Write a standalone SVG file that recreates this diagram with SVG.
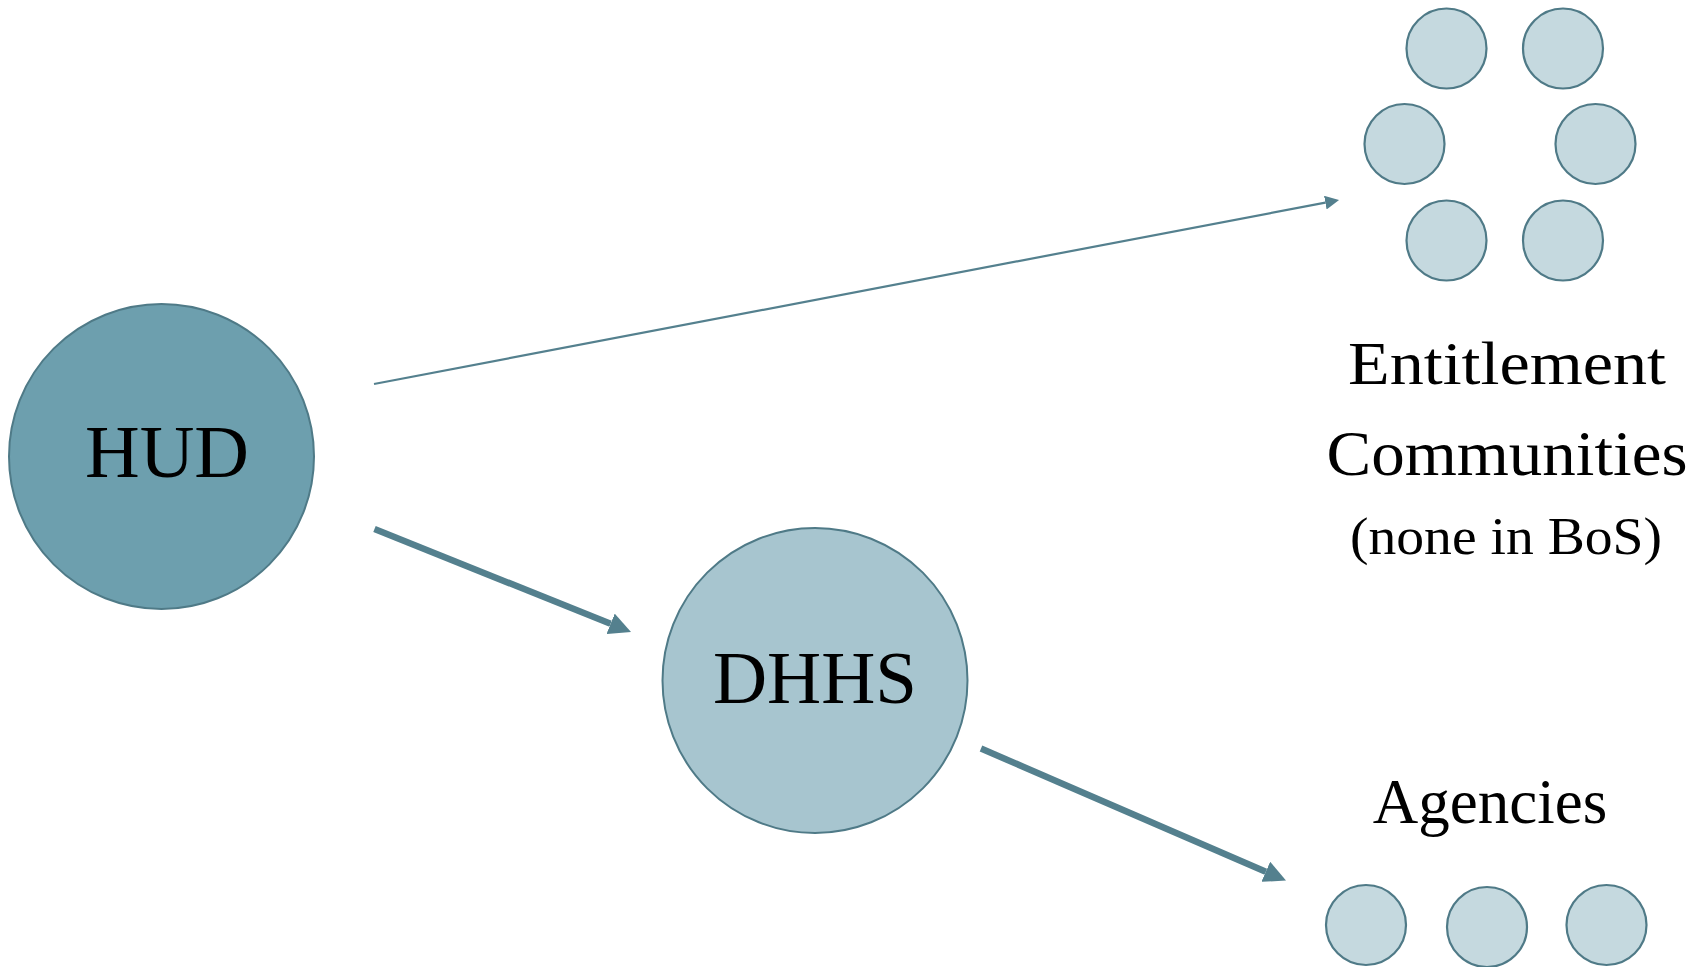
<svg xmlns="http://www.w3.org/2000/svg" width="1707" height="967" viewBox="0 0 1707 967">
<style>
.lbl{font-family:"Liberation Serif","Times New Roman",serif;fill:#000;text-anchor:middle}
.small{fill:#c5d9df;stroke:#4f7a87;stroke-width:2.2}
.conn{stroke:#54808e;fill:none}
</style>
<defs>
<marker id="headThin" markerUnits="userSpaceOnUse" markerWidth="14" markerHeight="14" viewBox="0 0 14 14" refX="0" refY="7" orient="auto">
<path d="M0,0 L14,7 L0,14 z" fill="#54808e"/>
</marker>
<marker id="headThick" markerUnits="userSpaceOnUse" markerWidth="22" markerHeight="22" viewBox="0 0 22 22" refX="0" refY="11" orient="auto">
<path d="M0,0 L22,11 L0,22 z" fill="#54808e"/>
</marker>
</defs>
<rect width="1707" height="967" fill="#fff"/>
<g id="connectors">
<line class="conn" x1="374" y1="384" x2="1325.3" y2="202.6" stroke-width="2.2" marker-end="url(#headThin)"/>
<line class="conn" x1="374.5" y1="529" x2="610.6" y2="623.8" stroke-width="6.5" marker-end="url(#headThick)"/>
<line class="conn" x1="981" y1="748.5" x2="1265.8" y2="871.8" stroke-width="6.5" marker-end="url(#headThick)"/>
</g>
<g id="hud">
<circle cx="161.5" cy="456.5" r="152.5" fill="#6d9fae" stroke="#4f7a87" stroke-width="2"/>
<text class="lbl" x="167" y="477" font-size="73" textLength="164" lengthAdjust="spacingAndGlyphs">HUD</text>
</g>
<g id="dhhs">
<circle cx="815" cy="680.5" r="152.5" fill="#a7c5cf" stroke="#4f7a87" stroke-width="2"/>
<text class="lbl" x="815" y="703" font-size="74" textLength="204" lengthAdjust="spacingAndGlyphs">DHHS</text>
</g>
<g id="entitlement">
<circle class="small" cx="1446.5" cy="48.5" r="40"/>
<circle class="small" cx="1563" cy="48.5" r="40"/>
<circle class="small" cx="1404.5" cy="144" r="40"/>
<circle class="small" cx="1595.5" cy="144" r="40"/>
<circle class="small" cx="1446.5" cy="240.5" r="40"/>
<circle class="small" cx="1563" cy="240.5" r="40"/>
<text class="lbl" x="1507" y="384" font-size="62" textLength="318" lengthAdjust="spacingAndGlyphs">Entitlement</text>
<text class="lbl" x="1507" y="475" font-size="63" textLength="361" lengthAdjust="spacingAndGlyphs">Communities</text>
<text class="lbl" x="1506" y="554" font-size="52" textLength="312" lengthAdjust="spacingAndGlyphs">(none in BoS)</text>
</g>
<g id="agencies">
<circle class="small" cx="1366" cy="925" r="40"/>
<circle class="small" cx="1487" cy="927" r="40"/>
<circle class="small" cx="1606.5" cy="925" r="40"/>
<text class="lbl" x="1490" y="823" font-size="63">Agencies</text>
</g>
</svg>
